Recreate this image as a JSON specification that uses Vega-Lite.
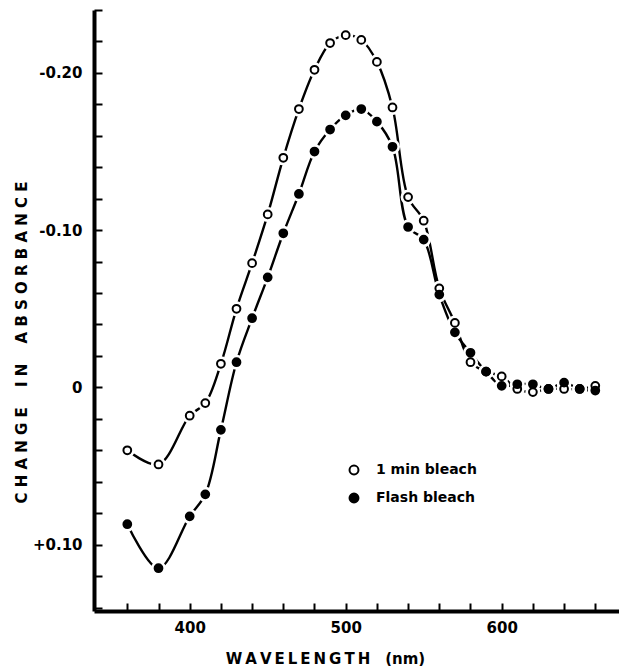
{
  "$schema": "https://vega.github.io/schema/vega-lite/v6.json",
  "width": 525,
  "height": 601,
  "autosize": {"type": "none"},
  "padding": {"left": 94, "top": 10, "right": 0, "bottom": 55},
  "background": "white",
  "config": {"view": {"stroke": null}, "font": "DejaVu Sans"},
  "data": {
    "values": [
      {"nm": 360, "v": 0.040, "series": "1 min bleach"},
      {"nm": 380, "v": 0.049, "series": "1 min bleach"},
      {"nm": 400, "v": 0.018, "series": "1 min bleach"},
      {"nm": 410, "v": 0.010, "series": "1 min bleach"},
      {"nm": 420, "v": -0.015, "series": "1 min bleach"},
      {"nm": 430, "v": -0.050, "series": "1 min bleach"},
      {"nm": 440, "v": -0.079, "series": "1 min bleach"},
      {"nm": 450, "v": -0.110, "series": "1 min bleach"},
      {"nm": 460, "v": -0.146, "series": "1 min bleach"},
      {"nm": 470, "v": -0.177, "series": "1 min bleach"},
      {"nm": 480, "v": -0.202, "series": "1 min bleach"},
      {"nm": 490, "v": -0.219, "series": "1 min bleach"},
      {"nm": 500, "v": -0.224, "series": "1 min bleach"},
      {"nm": 510, "v": -0.221, "series": "1 min bleach"},
      {"nm": 520, "v": -0.207, "series": "1 min bleach"},
      {"nm": 530, "v": -0.178, "series": "1 min bleach"},
      {"nm": 540, "v": -0.121, "series": "1 min bleach"},
      {"nm": 550, "v": -0.106, "series": "1 min bleach"},
      {"nm": 560, "v": -0.063, "series": "1 min bleach"},
      {"nm": 570, "v": -0.041, "series": "1 min bleach"},
      {"nm": 580, "v": -0.016, "series": "1 min bleach"},
      {"nm": 590, "v": -0.010, "series": "1 min bleach"},
      {"nm": 600, "v": -0.007, "series": "1 min bleach"},
      {"nm": 610, "v": 0.001, "series": "1 min bleach"},
      {"nm": 620, "v": 0.003, "series": "1 min bleach"},
      {"nm": 630, "v": 0.001, "series": "1 min bleach"},
      {"nm": 640, "v": 0.001, "series": "1 min bleach"},
      {"nm": 650, "v": 0.001, "series": "1 min bleach"},
      {"nm": 660, "v": -0.001, "series": "1 min bleach"},
      {"nm": 360, "v": 0.087, "series": "Flash bleach"},
      {"nm": 380, "v": 0.115, "series": "Flash bleach"},
      {"nm": 400, "v": 0.082, "series": "Flash bleach"},
      {"nm": 410, "v": 0.068, "series": "Flash bleach"},
      {"nm": 420, "v": 0.027, "series": "Flash bleach"},
      {"nm": 430, "v": -0.016, "series": "Flash bleach"},
      {"nm": 440, "v": -0.044, "series": "Flash bleach"},
      {"nm": 450, "v": -0.070, "series": "Flash bleach"},
      {"nm": 460, "v": -0.098, "series": "Flash bleach"},
      {"nm": 470, "v": -0.123, "series": "Flash bleach"},
      {"nm": 480, "v": -0.150, "series": "Flash bleach"},
      {"nm": 490, "v": -0.164, "series": "Flash bleach"},
      {"nm": 500, "v": -0.173, "series": "Flash bleach"},
      {"nm": 510, "v": -0.177, "series": "Flash bleach"},
      {"nm": 520, "v": -0.169, "series": "Flash bleach"},
      {"nm": 530, "v": -0.153, "series": "Flash bleach"},
      {"nm": 540, "v": -0.102, "series": "Flash bleach"},
      {"nm": 550, "v": -0.094, "series": "Flash bleach"},
      {"nm": 560, "v": -0.059, "series": "Flash bleach"},
      {"nm": 570, "v": -0.035, "series": "Flash bleach"},
      {"nm": 580, "v": -0.022, "series": "Flash bleach"},
      {"nm": 590, "v": -0.010, "series": "Flash bleach"},
      {"nm": 600, "v": -0.001, "series": "Flash bleach"},
      {"nm": 610, "v": -0.002, "series": "Flash bleach"},
      {"nm": 620, "v": -0.002, "series": "Flash bleach"},
      {"nm": 630, "v": 0.001, "series": "Flash bleach"},
      {"nm": 640, "v": -0.003, "series": "Flash bleach"},
      {"nm": 650, "v": 0.001, "series": "Flash bleach"},
      {"nm": 660, "v": 0.002, "series": "Flash bleach"}
    ]
  },
  "encoding": {
    "x": {
      "field": "nm",
      "type": "quantitative",
      "scale": {"domain": [338.65, 675.2], "nice": false, "zero": false},
      "axis": {
        "values": [360, 380, 400, 420, 440, 460, 480, 500, 520, 540, 560, 580, 600, 620, 640, 660],
        "labelExpr": "datum.value % 100 === 0 ? datum.value : ''",
        "grid": false,
        "domainColor": "black",
        "domainWidth": 4,
        "tickColor": "black",
        "tickWidth": 2,
        "tickSize": -8,
        "labelFont": "DejaVu Sans",
        "labelFontWeight": "bold",
        "labelFontSize": 15,
        "labelColor": "black",
        "labelPadding": 17,
        "title": "W\u2009A\u2009V\u2009E\u2009L\u2009E\u2009N\u2009G\u2009T\u2009H\u2003(nm)",
        "titleFont": "DejaVu Sans",
        "titleFontWeight": "bold",
        "titleFontSize": 15,
        "titleColor": "black",
        "titleX": 231,
        "titleY": 52,
        "titleAlign": "center",
        "titleBaseline": "alphabetic"
      }
    },
    "y": {
      "field": "v",
      "type": "quantitative",
      "scale": {"domain": [-0.24, 0.1422], "nice": false, "zero": false, "reverse": true},
      "axis": {
        "values": [-0.24, -0.22, -0.2, -0.18, -0.16, -0.14, -0.12, -0.1, -0.08, -0.06, -0.04, -0.02, 0, 0.02, 0.04, 0.06, 0.08, 0.1, 0.12, 0.14],
        "labelExpr": "abs(datum.value) < 1e-9 ? '0' : (abs(abs(datum.value * 10) - round(abs(datum.value * 10))) < 1e-6 ? (datum.value < 0 ? '-' : '+') + format(abs(datum.value), '.2f') : '')",
        "grid": false,
        "domainColor": "black",
        "domainWidth": 4,
        "tickColor": "black",
        "tickWidth": 2,
        "tickSize": -8,
        "labelFont": "DejaVu Sans",
        "labelFontWeight": "bold",
        "labelFontSize": 15,
        "labelColor": "black",
        "labelPadding": 20,
        "title": "C H A N G E\u2003 I N\u2003 A B S O R B A N C E",
        "titleFont": "DejaVu Sans",
        "titleFontWeight": "bold",
        "titleFontSize": 15,
        "titleColor": "black",
        "titleX": -73,
        "titleY": 332,
        "titleAngle": 270,
        "titleAlign": "center",
        "titleBaseline": "middle"
      }
    }
  },
  "layer": [
    {
      "mark": {"type": "line", "interpolate": "catmull-rom", "color": "black", "strokeWidth": 2.4},
      "encoding": {"detail": {"field": "series"}}
    },
    {
      "mark": {"type": "point", "shape": "circle", "filled": true, "fill": "white", "stroke": "white", "strokeWidth": 2, "size": 170, "opacity": 1}
    },
    {
      "mark": {"type": "point", "shape": "circle", "filled": true, "stroke": "black", "strokeWidth": 2, "size": 60, "opacity": 1},
      "encoding": {
        "fill": {
          "field": "series",
          "type": "nominal",
          "scale": {"domain": ["1 min bleach", "Flash bleach"], "range": ["white", "black"]},
          "legend": {
            "title": null,
            "orient": "none",
            "legendX": 253,
            "legendY": 453,
            "padding": 0,
            "symbolType": "circle",
            "symbolSize": 80,
            "symbolStrokeColor": "black",
            "symbolStrokeWidth": 2,
            "symbolOpacity": 1,
            "labelFont": "DejaVu Sans",
            "labelFontWeight": "bold",
            "labelFontSize": 14,
            "labelColor": "black",
            "labelOffset": 15,
            "rowPadding": 10
          }
        }
      }
    }
  ]
}
